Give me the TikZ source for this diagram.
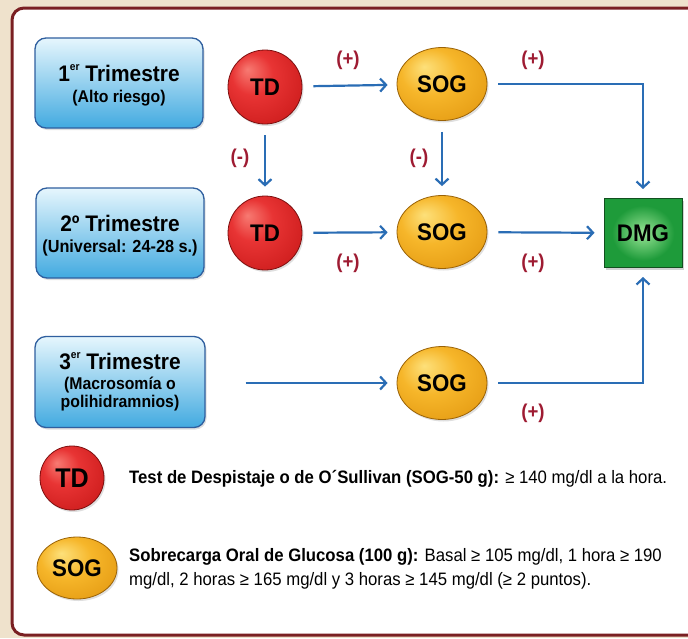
\documentclass[tikz,border=0pt]{standalone}
\usepackage{fontspec}
\setmainfont{Liberation Sans}[FakeStretch=0.93]
\usetikzlibrary{arrows.meta,shapes.geometric,shadows}
\definecolor{beige}{HTML}{EFE2CC}
\definecolor{frame}{HTML}{7A1F22}
\definecolor{arrblue}{HTML}{2A6DB5}
\definecolor{lblred}{HTML}{9E1B32}
\definecolor{boxline}{HTML}{2F5F9F}
\definecolor{boxtop}{HTML}{E6F6FD}
\definecolor{boxbot}{HTML}{42AAE0}
\definecolor{tdA}{HTML}{F77A72}
\definecolor{tdB}{HTML}{E83434}
\definecolor{tdC}{HTML}{D01F1F}
\definecolor{tdD}{HTML}{A51414}
\definecolor{tdline}{HTML}{7E1010}
\definecolor{sgA}{HTML}{FDE07A}
\definecolor{sgB}{HTML}{F6B62A}
\definecolor{sgC}{HTML}{E59C14}
\definecolor{sgD}{HTML}{C27C0A}
\definecolor{sgline}{HTML}{9A6206}
\definecolor{dmA}{HTML}{9AE596}
\definecolor{dmB}{HTML}{1E9B3A}
\definecolor{dmline}{HTML}{12501F}
\pgfdeclareradialshading{tdshade}{\pgfpoint{-12bp}{12bp}}{color(0bp)=(tdA); color(14bp)=(tdB); color(32bp)=(tdC); color(50bp)=(tdD)}
\pgfdeclareradialshading{sgshade}{\pgfpoint{-10bp}{12bp}}{color(0bp)=(sgA); color(16bp)=(sgB); color(34bp)=(sgC); color(50bp)=(sgD)}
\pgfdeclareradialshading{dmshade}{\pgfpoint{0bp}{0bp}}{color(0bp)=(dmA); color(20bp)=(dmB); color(50bp)=(dmB)}
\newcommand\ordsup[1]{\raisebox{0.5em}{\fontsize{11}{11}\selectfont #1}}
\tikzset{
  tribox/.style={draw=boxline, line width=1.3pt, rounded corners=11pt, top color=boxtop, bottom color=boxbot,
    minimum width=168pt, minimum height=90pt, inner sep=0pt, align=center,
    drop shadow={shadow xshift=1.5pt, shadow yshift=-2pt, opacity=0.25}},
  tdnode/.style={circle, draw=tdline, line width=0.8pt, shading=tdshade, minimum size=74pt, inner sep=0pt,
    font=\bfseries\fontsize{24}{24}\selectfont,
    drop shadow={shadow xshift=1.5pt, shadow yshift=-2pt, opacity=0.25}},
  sognode/.style={ellipse, draw=sgline, line width=0.8pt, shading=sgshade, minimum width=90pt, minimum height=73pt, inner sep=0pt,
    font=\bfseries\fontsize{24}{24}\selectfont,
    drop shadow={shadow xshift=1.5pt, shadow yshift=-2pt, opacity=0.25}},
  dmgnode/.style={rectangle, draw=dmline, line width=1pt, shading=dmshade, minimum width=78pt, minimum height=69pt, inner sep=0pt,
    font=\bfseries\fontsize{24}{24}\selectfont,
    drop shadow={shadow xshift=1.5pt, shadow yshift=-2pt, opacity=0.35}},
  arr/.style={draw=arrblue, line width=2.2pt, -{Straight Barb[length=6pt,width=13pt]}, shorten <=11pt, shorten >=9pt},
  sign/.style={text=lblred, font=\bfseries\fontsize{20}{20}\selectfont, inner sep=0pt},
  ttl/.style={font=\bfseries\fontsize{22.5}{22.5}\selectfont},
  sub/.style={font=\bfseries\fontsize{17}{17.5}\selectfont},
  legend/.style={font=\fontsize{18}{24}\selectfont, align=left, inner sep=0pt}
}
\begin{document}
\begin{tikzpicture}[x=1pt,y=-1pt]
\useasboundingbox (0,0) rectangle (688,638);
\clip (0,0) rectangle (688,638);
\fill[beige] (0,0) rectangle (688,638);
\draw[frame, line width=3pt, fill=white, rounded corners=12pt] (12,8) rectangle (730,635);

% trimester boxes
\node[tribox] (t1) at (119,83) {};
\node[ttl] (t1a) at (119,73) {1\ordsup{er} Trimestre};
\node[sub] (t1b) at (119,98) {(Alto riesgo)};
\node[tribox] (t2) at (120,233) {};
\node[ttl] (t2a) at (120,223) {2º Trimestre};
\node[sub, font=\bfseries\fontsize{17.5}{17.5}\selectfont] (t2b) at (120,248) {(Universal: 24-28 s.)};
\node[tribox, minimum width=170pt, minimum height=91pt] (t3) at (120,382) {};
\node[ttl] (t3a) at (120,361) {3\ordsup{er} Trimestre};
\node[sub, align=center] (t3b) at (120,394) {(Macrosomía o\\polihidramnios)};

% tests
\node[tdnode] (td1) at (265,87) {TD};
\node[tdnode] (td2) at (265,233) {TD};
\node[sognode] (s1) at (442,84) {SOG};
\node[sognode] (s2) at (442,232) {SOG};
\node[sognode] (s3) at (442,383) {SOG};
\node[dmgnode] (dmg) at (643,233) {DMG};

% connectors
\draw[arr] (td1) -- (s1);
\draw[arr] (td1) -- (td2);
\draw[arr] (s1) -- (s2);
\draw[arr] (td2) -- (s2);
\draw[arr] (s2) -- (dmg);
\draw[arr] (s1.east) -| (dmg.north);
\draw[arr, shorten <=40pt] (t3.east |- s3) -- (s3);
\draw[arr] (s3.east) -| (dmg.south);

% signs
\node[sign] (p1) at (348,60) {(+)};
\node[sign] (p2) at (533,60) {(+)};
\node[sign] (m1) at (240,158) {(-)};
\node[sign] (m2) at (419,158) {(-)};
\node[sign] (p3) at (348,263) {(+)};
\node[sign] (p4) at (533,263) {(+)};
\node[sign] (p5) at (533,413) {(+)};

% legend
\node[tdnode, minimum size=64pt, font=\bfseries\fontsize{27}{27}\selectfont] (ltd) at (72,478) {TD};
\node[sognode, minimum width=80pt, minimum height=62pt] (lsog) at (77,568) {SOG};
\node[legend, anchor=west] (ltdtxt) at (129,479) {\textbf{Test de Despistaje o de O´Sullivan (SOG-50 g):} ≥ 140 mg/dl a la hora.};
\node[legend, anchor=north west] (lsogtxt) at (129,548) {\textbf{Sobrecarga Oral de Glucosa (100 g):} Basal ≥ 105 mg/dl, 1 hora ≥ 190\\mg/dl, 2 horas ≥ 165 mg/dl y 3 horas ≥ 145 mg/dl (≥ 2 puntos).};
\end{tikzpicture}
\end{document}
